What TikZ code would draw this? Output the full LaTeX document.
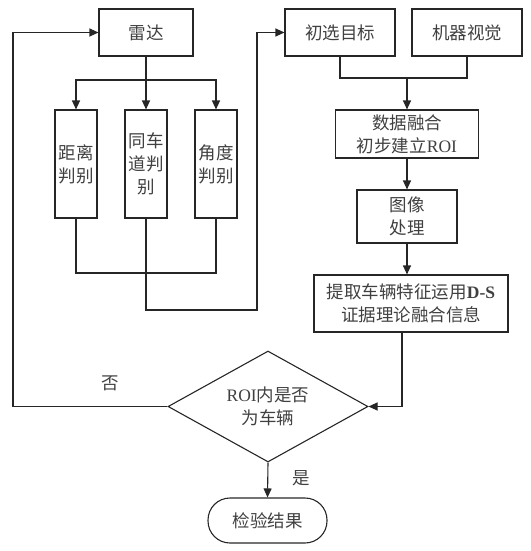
\documentclass[tikz,border=0pt]{standalone}
\usepackage{fontspec}
\setmainfont{Liberation Serif}
\newfontfamily\cjk{Noto Sans CJK SC}
\usetikzlibrary{arrows.meta,shapes.geometric}
\begin{document}
\begin{tikzpicture}[x=1pt,y=-1pt,
  every node/.style={font=\cjk\fontsize{17.5}{23}\selectfont, text=black!75, align=center, inner sep=0pt},
  box/.style={draw=black!85, line width=1.1pt, minimum width=#1},
  box/.default=100pt,
  con/.style={draw=black!85, line width=1.1pt},
  arr/.style={con, -{Triangle[length=9pt,width=8pt]}},
  lbl/.style={}]
\useasboundingbox (0,0) rectangle (530,551);
\node[box=94pt, minimum height=47pt] (radar) at (146,32.5) {雷达};
\node[box=110pt, minimum height=47pt] (chu) at (340,32.5) {初选目标};
\node[box=110pt, minimum height=47pt] (jq) at (467,32.5) {机器视觉};
\node[box=42pt, minimum height=108pt] (b1) at (76,164) {距离\\判别};
\node[box=42pt, minimum height=108pt] (b2) at (146,164) {同车\\道判\\别};
\node[box=42pt, minimum height=108pt] (b3) at (216,164) {角度\\判别};
\node[box=143pt, minimum height=48pt] (fuse) at (407,134) {数据融合\\初步建立{\rmfamily ROI}};
\node[box=100pt, minimum height=53pt] (img) at (407,216.5) {图像\\处理};
\node[box=194pt, minimum height=57pt] (ext) at (411,303.5) {提取车辆特征运用{\rmfamily\bfseries D-S}\\证据理论融合信息};
\node[draw=black!85, line width=1.1pt, diamond, aspect=2, minimum width=200pt, minimum height=111pt] (dia) at (268,406.5) {{\rmfamily ROI}内是否\\为车辆};
\node[box=119pt, minimum height=45pt, rounded corners=22pt] (res) at (267.5,520.5) {检验结果};
\node[lbl] (no) at (110,383) {否};
\node[lbl] (yes) at (301,478) {是};
\coordinate (rs) at (146,80);
\coordinate (j1) at (146,273);
\coordinate (j2) at (257,310);
\coordinate (m) at (407,78);
\coordinate (ed) at (402,332);
\coordinate (lc) at (13,406.5);
\draw[con] (radar.south) -- (rs);
\draw[arr] (rs) -| (b1.north);
\draw[arr] (rs) -| (b3.north);
\draw[arr] (rs) -- (b2.north);
\draw[con] (b1.south) |- (j1) -| (b3.south);
\draw[arr] (b2.south) |- (j2) |- (chu.west);
\draw[con] (chu.south) |- (m) -| (jq.south);
\draw[arr] (m) -- (fuse.north);
\draw[arr] (fuse.south) -- (img.north);
\draw[arr] (img.south) -- (img.south |- ext.north);
\draw[arr] (ed) |- (dia.east);
\draw[arr] (dia.west) -- (lc) |- (radar.west);
\draw[arr] (dia.south) -- (res.north);
\end{tikzpicture}
\end{document}
